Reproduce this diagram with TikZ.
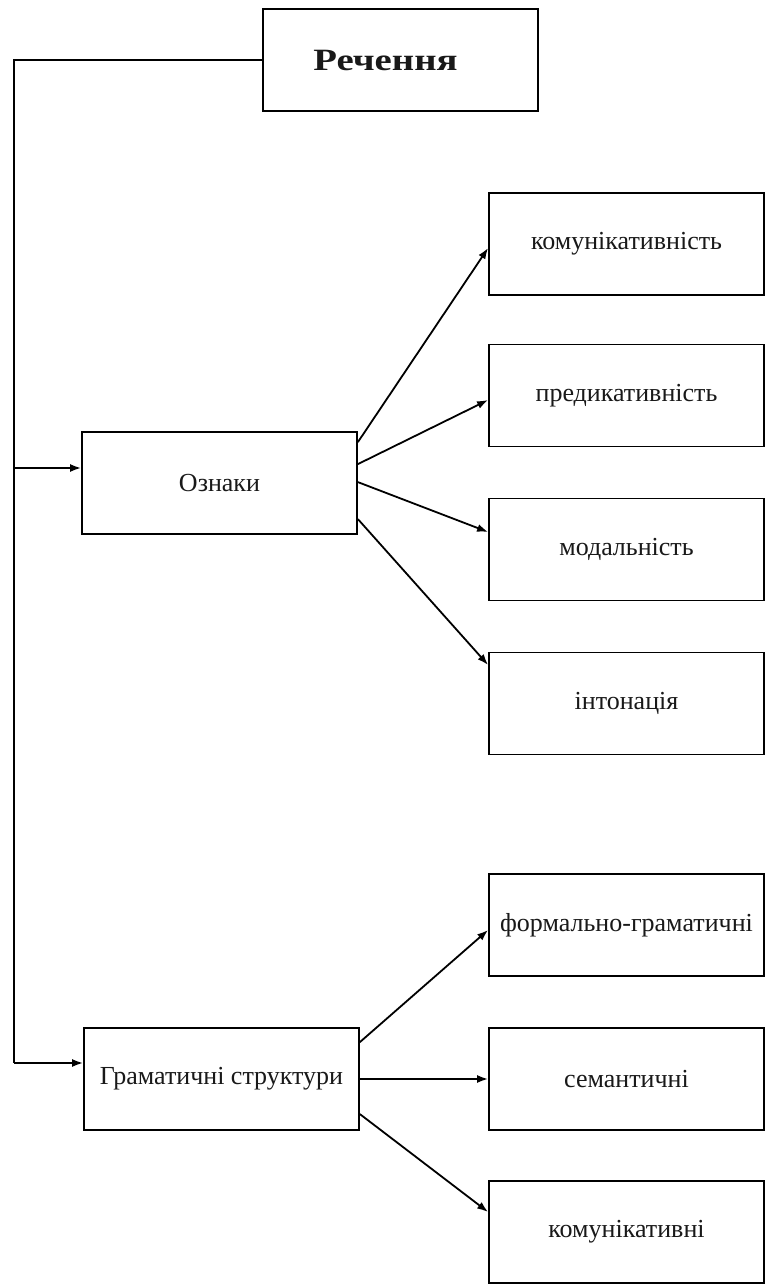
\documentclass[tikz,border=0pt]{standalone}
\usepackage{fontspec}
\usepackage{graphicx}
\setmainfont{Liberation Serif}
\usetikzlibrary{arrows.meta,calc}
\begin{document}
\begin{tikzpicture}[x=1pt,y=-1pt,
  box/.style={draw=black,line width=1.8pt,rectangle,minimum width=275pt,minimum height=102pt,inner sep=0pt,
    font=\fontsize{26}{30}\selectfont,text=black!90},
  arr/.style={draw=black,line width=1.8pt,-{Latex[length=11pt,width=8pt]}},
  lin/.style={draw=black,line width=1.8pt}]
\useasboundingbox[fill=white] (0,0) rectangle (773,1287);
\node[box,font=\fontsize{31}{34}\selectfont\bfseries] (rech) at (400.5,60) {\hspace*{-30pt}\scalebox{1.25}[1]{Речення}};
\node[box] (oz) at (219.5,483) {Ознаки};
\node[box] (gram) at (221.5,1079) {Граматичні структури};
\node[box] (kom) at (626.5,244) {комунікативність};
\node[box] (pred) at (626.5,395.5) {предикативність};
\node[box] (mod) at (626.5,549.5) {модальність};
\node[box] (int) at (626.5,703.5) {інтонація};
\node[box] (form) at (626.5,925) {формально-граматичні};
\node[box] (sem) at (626.5,1079) {семантичні};
\node[box] (kom2) at (626.5,1232) {комунікативні};
\coordinate (tl) at (14,60);
\coordinate (ozin) at ([yshift=15pt]oz.west);
\coordinate (gramin) at ([yshift=16pt]gram.west);
\draw[lin] (rech.west) -- (tl) -- (tl |- gramin);
\draw[arr] (tl |- gramin) -- (gramin);
\draw[arr] (tl |- ozin) -- (ozin);
\draw[arr] ([yshift=-11pt]oz.north east) -- ([yshift=-4pt]kom.west);
\draw[arr] ([yshift=-33pt]oz.north east) -- ([yshift=-4.5pt]pred.west);
\draw[arr] ([yshift=-51pt]oz.north east) -- ([yshift=17.5pt]mod.west);
\draw[arr] ([yshift=-88pt]oz.north east) -- ([yshift=38.5pt]int.west);
\draw[arr] ([yshift=-15pt]gram.north east) -- ([yshift=-5pt]form.west);
\draw[arr] (gram.east) -- (sem.west);
\draw[arr] ([yshift=-87pt]gram.north east) -- ([yshift=20pt]kom2.west);
\end{tikzpicture}
\end{document}
